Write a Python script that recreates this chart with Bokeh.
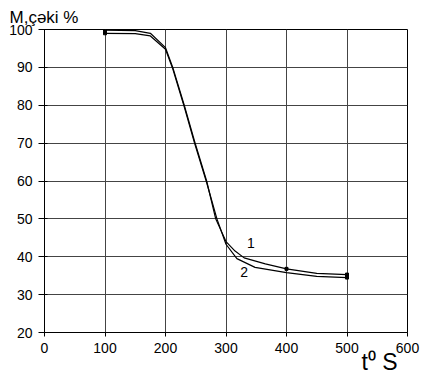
from bokeh.plotting import figure
from bokeh.models import Label, FixedTicker, Title
from bokeh.embed import file_html
from bokeh.resources import INLINE

# ---- data ----
x1 = [100, 150, 175, 200, 212, 231, 248, 268, 283, 300, 315, 330, 365, 400, 450, 500]
y1 = [99.8, 99.7, 99.0, 95.2, 90.0, 80.0, 70.5, 60.0, 50.0, 44.0, 41.5, 39.7, 38.1, 36.8, 35.6, 35.3]
x2 = [100, 150, 175, 200, 212, 231, 248, 268, 285, 300, 318, 348, 400, 450, 500]
y2 = [99.0, 98.9, 98.3, 94.8, 89.6, 79.6, 70.0, 59.6, 50.0, 43.3, 39.5, 37.2, 35.8, 34.8, 34.5]
x_ticks = [0, 100, 200, 300, 400, 500, 600]
y_ticks = [20, 30, 40, 50, 60, 70, 80, 90, 100]
series_names = ["1", "2"]
y_title = "M,çəki %"
x_title = "t\u2070 S"

FONT = "Liberation Sans"

p = figure(width=422, height=374, x_range=(0, 600), y_range=(20, 100),
           output_backend="svg", toolbar_location=None,
           min_border_left=44, min_border_right=15, min_border_top=29, min_border_bottom=42)
p.background_fill_color = "white"
p.border_fill_color = "white"
p.outline_line_color = "black"
p.outline_line_width = 1

p.title = Title(text=y_title, align="left", offset=-35, text_font=FONT,
                text_font_size="17px", text_font_style="normal", text_color="black",
                standoff=6)

p.add_layout(Title(text=x_title, align="right", offset=10, text_font=FONT,
                   text_font_size="23px", text_font_style="normal", text_color="black",
                   standoff=-17), "below")

p.xaxis.ticker = FixedTicker(ticks=x_ticks)
p.yaxis.ticker = FixedTicker(ticks=y_ticks)
for ax in (p.xaxis, p.yaxis):
    ax.major_label_text_font = FONT
    ax.major_label_text_font_size = "14px"
    ax.major_label_text_color = "black"
    ax.axis_line_color = "black"
    ax.major_tick_line_color = "black"
    ax.minor_tick_line_color = None
    ax.major_label_standoff = 6
p.yaxis.major_tick_out = 6
p.yaxis.major_tick_in = 3
p.xaxis.major_tick_out = 4
p.xaxis.major_tick_in = 0

p.xgrid.ticker = FixedTicker(ticks=x_ticks)
p.ygrid.ticker = FixedTicker(ticks=y_ticks)
for g in (p.xgrid, p.ygrid):
    g.grid_line_color = "#444444"
    g.grid_line_width = 1

p.line(x1, y1, line_color="black", line_width=1.2)
p.line(x2, y2, line_color="black", line_width=1.2)
p.scatter([x1[0], x1[-3], x1[-1]], [y1[0], y1[-3], y1[-1]], marker="square", size=3, color="black")
p.scatter([x2[0], x2[-1]], [y2[0], y2[-1]], marker="square", size=3, color="black")

# series labels
p.add_layout(Label(x=341, y=43.5, text=series_names[0], text_font=FONT, text_font_size="14px",
                   text_color="black", text_align="center", text_baseline="middle"))
p.add_layout(Label(x=330, y=36.1, text=series_names[1], text_font=FONT, text_font_size="14px",
                   text_color="black", text_align="center", text_baseline="middle"))

open("out.html", "w").write(file_html(p, INLINE))
